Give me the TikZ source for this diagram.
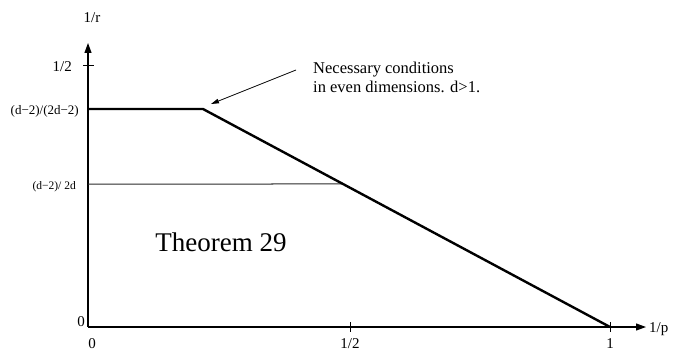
\documentclass[tikz,border=0pt]{standalone}
\usepackage{fontspec}
\setmainfont{Liberation Serif}
\usetikzlibrary{arrows.meta,positioning,calc}
\definecolor{ink}{HTML}{000000}
\definecolor{inkgray}{HTML}{2A2A2A}
\tikzset{
  axisarr/.style={draw=ink,line width=1.1pt,-{Triangle[length=10pt,width=7pt]}},
  boundline/.style={draw=ink,line width=2.4pt,line join=miter},
  levelline/.style={draw=inkgray,line width=1.0pt},
  tickmark/.style={draw=ink,line width=0.9pt},
  ticklab/.style={font=\fontsize{15}{17}\selectfont,inner sep=1pt},
  fraclab/.style={font=\fontsize{13}{15}\selectfont,inner sep=1pt,anchor=east},
  notetext/.style={font=\fontsize{16.5}{19}\selectfont,align=left,
                   anchor=north west,inner sep=0pt},
  notearr/.style={-{Triangle[length=8pt,width=4.5pt]},line width=0.8pt}
}

\begin{document}
\begin{tikzpicture}[x=1pt,y=-1pt]
  \useasboundingbox (0,0) rectangle (674,353);
  % axes
  \coordinate (O) at (88,327);
  \coordinate (xend) at (646,327);
  \coordinate (yend) at (88,43);
  \draw[axisarr] (O) -- (xend);
  \draw[axisarr] (O) -- (yend);
  \node[ticklab] (rlab) at (92,18) {1/r};
  \node[ticklab,anchor=west] (plab) at (648,329) {1/p};
  % ticks
  \coordinate (yhalf) at (88,65);
  \coordinate (xhalf) at (350,327);
  \coordinate (xone) at (610,327);
  \draw[tickmark] ($(yhalf)+(-5,0)$) -- ($(yhalf)+(6,0)$);
  \draw[tickmark] ($(xhalf)+(0,-5)$) -- ($(xhalf)+(0,5)$);
  \draw[tickmark] ($(xone)+(0,-5)$) -- ($(xone)+(0,5)$);
  \node[ticklab,anchor=east] (yhalflab) at (73,67) {1/2};
  \node[ticklab,anchor=east] (yzerolab) at (86,322) {0};
  \node[ticklab] (xzerolab) at (92,344) {0};
  \node[ticklab] (xhalflab) at (350,344) {1/2};
  \node[ticklab] (xonelab) at (610,344) {1};
  % levels
  \coordinate (ylev) at (88,109);
  \coordinate (ymid) at (88,184);
  \coordinate (kink) at (203,109);
  \coordinate (xmid) at ($(kink)!{75/218}!(xone)$);
  \node[fraclab] (levlab) at (80,111) {(d−2)/(2d−2)};
  \node[fraclab,font=\fontsize{11.5}{13}\selectfont] (midlab) at (77,187) {(d−2)/ 2d};
  \draw[levelline] (ymid) -- (xmid);
  \draw[boundline] (ylev) -- (kink) -- (xone);
  % labels
  \node[font=\fontsize{27}{30}\selectfont] (thm) at (221,242) {Theorem 29};
  \node[notetext] (note) at (313,62) {Necessary conditions\\in even dimensions. d>1.};
  \coordinate (notetail) at (296,70);
  \coordinate (notetip) at (211,104);
  \draw[notearr] (notetail) -- (notetip);
\end{tikzpicture}
\end{document}
